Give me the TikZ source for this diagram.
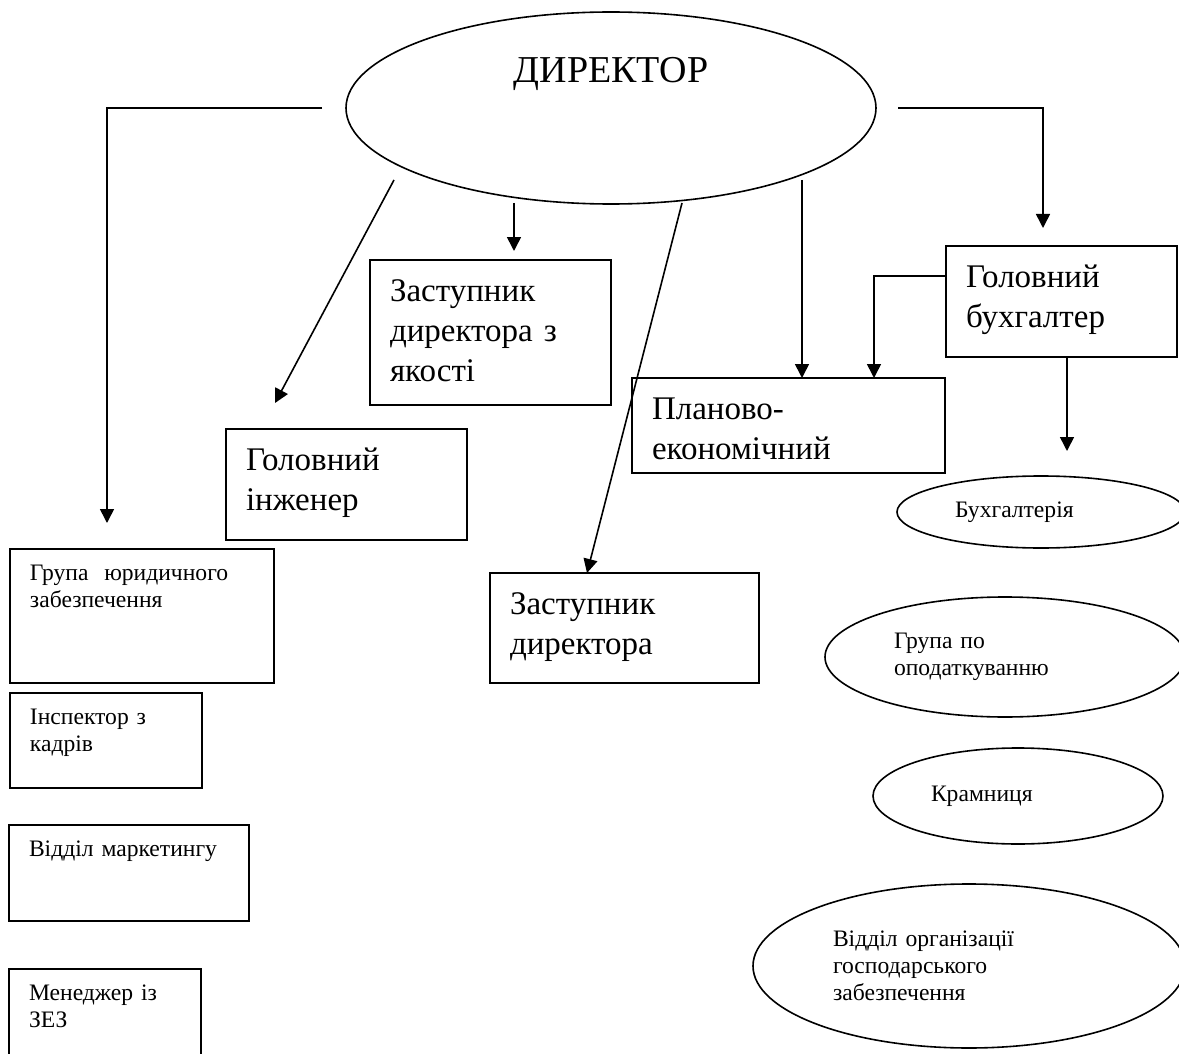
\documentclass[tikz,border=0pt]{standalone}
\usepackage{fontspec}
\setmainfont{Liberation Serif}
\usepackage{tikz}
\usetikzlibrary{calc,arrows.meta,shapes.geometric}

\newcommand{\fntdir}{\fontsize{19pt}{23pt}\selectfont}
\newcommand{\fntbig}{\fontsize{16.5pt}{20pt}\selectfont}
\newcommand{\fntsmall}{\fontsize{11.8pt}{13.5pt}\selectfont}

\begin{document}
\begin{tikzpicture}[x=0.5pt,y=-0.5pt,line width=0.8pt,
    arr/.style={-{Triangle[length=7pt,width=7pt]}},
    bigbox/.style 2 args={draw,anchor=north west,outer sep=0pt,inner xsep=10pt,inner ysep=0pt,align=left,font=\fntbig,text width=#1,text height=20.5pt,text depth=#2},
    smallbox/.style 2 args={draw,anchor=north west,outer sep=0pt,inner xsep=10pt,inner ysep=0pt,align=left,font=\fntsmall,text width=#1,text height=15.5pt,text depth=#2},
    oval/.style={draw,ellipse,inner sep=0pt,outer sep=0pt,align=left,font=\fntsmall}]
        \useasboundingbox (0,0) rectangle (1179,1054);
        \clip (0,0) rectangle (1179,1054);
        % director
        \node[oval,minimum width=265pt,minimum height=96pt,font=\fntdir,text height=13.5pt,text depth=38.5pt] (dir) at (611,108) {ДИРЕКТОР};
        % boxes under the director
        \node[bigbox={100.5pt}{52pt}] (qual) at (370,260) {Заступник\\директора з\\якості};
        \node[bigbox={100.5pt}{35pt}] (eng) at (226,429) {Головний\\інженер};
        \node[bigbox={114.5pt}{34.5pt}] (dep) at (490,573) {Заступник\\директора};
        \node[bigbox={136.5pt}{27pt}] (plan) at (632,378) {Планово-\\економічний};
        \node[bigbox={95.5pt}{35pt}] (acc) at (946,246) {Головний\\бухгалтер};
        % left column
        \node[smallbox={112pt}{51.5pt}] (legal) at (10,549) {Група~ юридичного\\забезпечення};
        \node[smallbox={76pt}{32pt}] (hr) at (10,693) {Інспектор з\\кадрів};
        \node[smallbox={100pt}{32.5pt}] (mkt) at (9,825) {Відділ маркетингу};
        \node[smallbox={76pt}{50pt}] (mgr) at (9,969) {Менеджер із\\ЗЕЗ};
        % right column
        \node[oval,minimum width=144pt,minimum height=36pt,text width=86pt] (bk) at (1041,512) {Бухгалтерія};
        \node[oval,minimum width=180pt,minimum height=60pt,text width=111pt] (tax) at (1005,657) {Група по\\оподаткуванню};
        \node[oval,minimum width=145pt,minimum height=48pt,text width=87pt] (shop) at (1018,796) {Крамниця};
        \node[oval,minimum width=216pt,minimum height=82pt,text width=136pt] (supply) at (969,966) {Відділ організації\\господарського\\забезпечення};
        % arrows
        \draw[arr] ($(dir.west)+(-24,0)$) -| ($(legal.north)+(-35,-26)$);
        \draw[arr] ($(dir.east)+(22,0)$) -| ($(acc.north)+(-18.5,-18)$);
        \draw[arr] ($(dir.center)+(-217,72)$) -- ($(eng.north)+(-71.5,-26)$);
        \draw[arr] ($(dir.center)+(-97,95)$) -- ($(qual.north)+(23.5,-9)$);
        \draw[arr] ($(dir.center)+(71,95)$) -- ($(dep.north)+(-37.5,0)$);
        \draw[arr] ($(dir.center)+(191,72)$) -- ($(plan.north)+(13.5,0)$);
        \draw[arr] ($(acc.west)+(0,-25.5)$) -| ($(plan.north)+(85.5,0)$);
        \draw[arr] ($(acc.south)+(5.5,0)$) -- ($(bk.north)+(26,-25)$);
\end{tikzpicture}
\end{document}
